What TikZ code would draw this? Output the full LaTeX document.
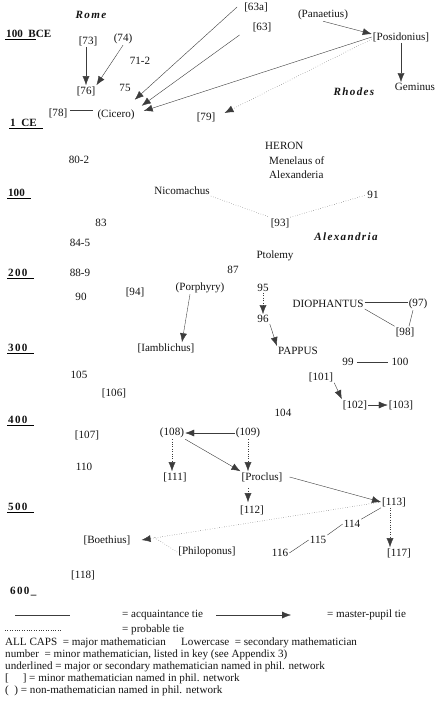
\documentclass[tikz,border=0pt]{standalone}
\usepackage{fontspec}
\setmainfont{Liberation Serif}
\usetikzlibrary{arrows.meta,positioning}
\definecolor{tieclr}{RGB}{60,60,60}
\definecolor{lblclr}{RGB}{20,20,20}
\newcommand{\chartfont}{\fontsize{11.1}{12.2}\selectfont}
\tikzset{
  nm/.style={inner sep=1pt,text=lblclr,font=\chartfont},
  city/.style={nm,font=\chartfont\bfseries\itshape\addfontfeature{LetterSpace=12}},
  era/.style={nm,anchor=west,font=\chartfont\bfseries},
  spaced/.style={font=\chartfont\bfseries\addfontfeature{LetterSpace=12}},
  lgd/.style={nm,anchor=west},
  acq/.style={thin,color=tieclr},
  mp/.style={-{Latex[length=9pt,width=7pt]},thin,color=tieclr},
  prob/.style={thin,dotted,color=tieclr},
  parr/.style={prob,-{Latex[length=9pt,width=7pt]}},
}
\begin{document}
\begin{tikzpicture}[x=1pt,y=-1pt]
  \fill[white] (0,0) rectangle (438,708);
  \useasboundingbox (0,0) rectangle (438,708);
  % time axis
  \node[era] (bce) at (5,34) {100\ \ BCE};
  \node[era] (ce) at (9,123) {1\ \ CE};
  \node[era] (c1) at (7,193) {100};
  \node[era,spaced] (c2) at (7,273) {200};
  \node[era,spaced] (c3) at (7,348) {300};
  \node[era,spaced] (c4) at (7,420) {400};
  \node[era,spaced] (c5) at (7,507) {500};
  \node[era,spaced] (c6) at (9,592) {600\_};
  \draw[thin] (bce.south west) -- ++(31,0);
  \foreach \c in {ce,c1,c2,c3,c4,c5}
    \draw[thin] (\c.south west) -- ([xshift=5pt]\c.south east);
  % cities
  \node[city] (rome) at (91,15) {Rome};
  \node[city] (rhodes) at (354,92) {Rhodes};
  \node[city] (alex) at (346,237) {Alexandria};
  % Rome and Rhodes
  \node[nm] (n63a) at (256,7) {[63a]};
  \node[nm] (n63) at (262,27) {[63]};
  \node[nm] (pan) at (323,15) {(Panaetius)};
  \node[nm] (posi) at (401,37) {[Posidonius]};
  \node[nm] (gem) at (415,87) {Geminus};
  \node[nm] (n73) at (88,41) {[73]};
  \node[nm] (n74) at (123,39) {(74)};
  \node[nm] (n712) at (140,61) {71-2};
  \node[nm] (n76) at (86,91) {[76]};
  \node[nm] (n75) at (125,88) {75};
  \node[nm] (n78) at (58,113) {[78]};
  \node[nm] (cic) at (116,115) {(Cicero)};
  \node[nm] (n79) at (206,117) {[79]};
  \node[nm] (n802) at (79,160) {80-2};
  % Alexandria
  \node[nm,anchor=west] (heron) at (264,146) {HERON};
  \node[nm,anchor=north west,align=left,font=\fontsize{11.1}{14}\selectfont] (men) at (268,155) {Menelaus of\\Alexanderia};
  \node[nm] (nico) at (182,191) {Nicomachus};
  \node[nm] (n91) at (373,195) {91};
  \node[nm] (n93) at (280,223) {[93]};
  \node[nm] (n83) at (101,223) {83};
  \node[nm] (ptol) at (275,256) {Ptolemy};
  \node[nm] (n845) at (80,243) {84-5};
  \node[nm] (n889) at (80,273) {88-9};
  \node[nm] (n87) at (233,270) {87};
  \node[nm] (n90) at (81,297) {90};
  \node[nm] (n94) at (135,292) {[94]};
  \node[nm] (por) at (200,288) {(Porphyry)};
  \node[nm] (n95) at (263,288) {95};
  \node[nm] (dio) at (328,304) {DIOPHANTUS};
  \node[nm] (n97) at (418,304) {(97)};
  \node[nm] (n96) at (263,319) {96};
  \node[nm] (n98) at (405,332) {[98]};
  \node[nm] (iam) at (166,348) {[Iamblichus]};
  \node[nm] (pap) at (298,351) {PAPPUS};
  \node[nm] (n99) at (348,362) {99};
  \node[nm] (n100) at (400,362) {100};
  \node[nm] (n105) at (79,375) {105};
  \node[nm] (n101) at (321,377) {[101]};
  \node[nm] (n106) at (114,393) {[106]};
  \node[nm] (n102) at (355,405) {[102]};
  \node[nm] (n103) at (401,405) {[103]};
  \node[nm] (n104) at (283,413) {104};
  \node[nm] (n107) at (87,435) {[107]};
  \node[nm] (n108) at (172,433) {(108)};
  \node[nm] (n109) at (248,433) {(109)};
  \node[nm] (n110) at (84,467) {110};
  \node[nm] (n111) at (175,477) {[111]};
  \node[nm] (procl) at (262,477) {[Proclus]};
  \node[nm] (n113) at (394,502) {[113]};
  \node[nm] (n112) at (252,510) {[112]};
  \node[nm] (n114) at (352,524) {114};
  \node[nm] (boe) at (107,540) {[Boethius]};
  \node[nm] (n115) at (318,540) {115};
  \node[nm] (phil) at (207,552) {[Philoponus]};
  \node[nm] (n116) at (280,553) {116};
  \node[nm] (n117) at (399,553) {[117]};
  \node[nm] (n118) at (83,575) {[118]};
  % ties
  \draw[mp] ([xshift=-6pt]n63a.west) -- ([xshift=-1pt,yshift=9pt]cic.north east);
  \draw[mp] ([xshift=-12pt,yshift=-8pt]n63.west) -- ([xshift=6pt,yshift=3pt]cic.north east);
  \draw[mp] (posi.west) -- ([xshift=8pt,yshift=4pt]cic.east);
  \draw[parr] ([yshift=-2pt]posi.west) -- ([xshift=8pt,yshift=4pt]n79.east);
  \draw[mp] (pan.south) -- ([yshift=3pt]posi.west);
  \draw[mp] (posi.south) -- (posi.south |- gem.north);
  \draw[mp] ([xshift=-2pt]n73.south) -- ([xshift=-2pt]n73.south |- n76.north);
  \draw[mp] (n74.south) -- (n76.north east);
  \draw[acq] ([xshift=2pt,yshift=3pt]n78.east) -- ([xshift=-3pt,yshift=5pt]cic.west);
  \draw[prob] (nico.south east) -- (n93.north west);
  \draw[prob] (n93.north east) -- (n91.west);
  \draw[mp] ([xshift=-10pt]por.south) -- ([xshift=16pt]iam.north);
  \draw[parr] (n95.south) -- (n96.north);
  \draw[mp] (n96.south east) -- (pap.north west);
  \draw[acq] ([yshift=2pt]dio.east) -- ([yshift=2pt]n97.west);
  \draw[acq] (dio.south east) -- (n98.north west);
  \draw[acq] ([xshift=-5pt]n97.south) -- ([xshift=4pt]n98.north);
  \draw[acq,shorten <=2pt,shorten >=2pt] (n99.east) -- (n100.west);
  \draw[mp] (n101.south east) -- (n102.north west);
  \draw[mp] (n102.east) -- (n103.west);
  \draw[mp] (n109.west) -- (n108.east);
  \draw[parr] (n108.south) -- (n108.south |- n111.north);
  \draw[mp] (n108.south east) -- (procl.north west);
  \draw[parr] (n109.south) -- (n109.south |- procl.north);
  \draw[parr] ([xshift=-4pt,yshift=16pt]n112.north) -- ([xshift=-4pt,yshift=2pt]n112.north);
  \draw[mp] ([xshift=6pt]procl.east) -- (n113.west);
  \draw[parr] ([xshift=-4pt]n113.south) -- ([xshift=-4pt]n113.south |- n117.north);
  \draw[parr] (n113.west) -- ([xshift=10pt]boe.east);
  \draw[prob] (phil.west) -- ([xshift=22pt,yshift=3pt]boe.east);
  \draw[acq] (n113.south west) -- (n114.north east);
  \draw[acq] (n114.west) -- (n115.north east);
  \draw[acq] (n115.west) -- (n116.east);
  % legend
  \coordinate (acqA) at (15,615); \coordinate (acqB) at (70,615);
  \draw[acq] (acqA) -- (acqB);
  \node[lgd] (lacq) at (121,615) {= acquaintance tie};
  \coordinate (mpA) at (216,615); \coordinate (mpB) at (291,615);
  \draw[mp] (mpA) -- (mpB);
  \node[lgd] (lmp) at (326,615) {= master-pupil tie};
  \coordinate (prA) at (5,630); \coordinate (prB) at (62,630);
  \draw[prob] (prA) -- (prB);
  \node[lgd] (lprob) at (121,630) {= probable tie};
  \node[lgd] (lcaps) at (4,643) {ALL CAPS\ \ = major mathematician};
  \node[lgd] (llow) at (180,643) {Lowercase\ \ = secondary mathematician};
  \node[lgd] (lnum) at (4,655) {number\ \ = minor mathematician, listed in key (see Appendix 3)};
  \node[lgd] (lund) at (4,667) {underlined = major or secondary mathematician named in phil. network};
  \node[lgd] (lbrk) at (4,679) {[\quad\ ] = minor mathematician named in phil. network};
  \node[lgd] (lpar) at (4,691) {(\ \ ) = non-mathematician named in phil. network};
\end{tikzpicture}
\end{document}
